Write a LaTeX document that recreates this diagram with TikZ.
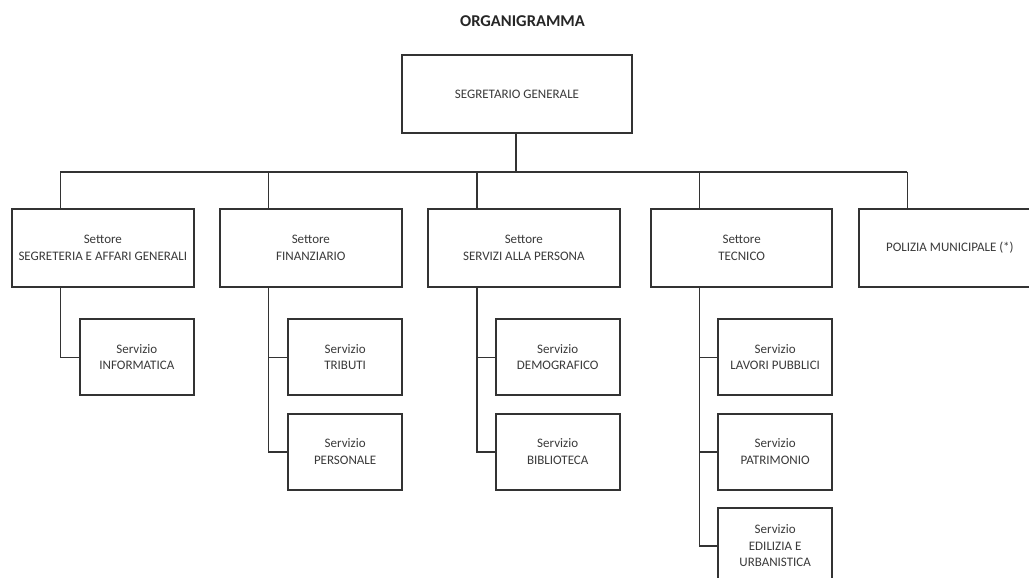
\documentclass[tikz,border=0pt]{standalone}
\usepackage{fontspec}
\setmainfont{Carlito}
\definecolor{linec}{HTML}{333333}
\definecolor{textc}{HTML}{3A3A3A}
\begin{document}
\begin{tikzpicture}[x=1pt,y=-1pt,
  box/.style={draw=linec, line width=1.9pt, rectangle, align=center, inner sep=0pt,
    text=textc, font=\fontsize{13}{16.5}\selectfont},
  sector/.style={box, minimum height=78pt},
  serv/.style={box, minimum height=76pt, minimum width=114.3pt},
  conn/.style={draw=linec, line width=1.6pt}]
\useasboundingbox (0,0) rectangle (1029,578);
\clip (0,0) rectangle (1029,578);
\fill[white] (0,0) rectangle (1029,578);

\node[font=\bfseries\fontsize{16.5}{18}\selectfont, text=black!85] (title) at (522.5,21) {ORGANIGRAMMA};

\node[box, minimum width=230pt, minimum height=78pt] (sg) at (517,94) {SEGRETARIO GENERALE};

\node[sector, minimum width=182.3pt] (s1) at (102.85,248) {Settore\\SEGRETERIA E AFFARI GENERALI};
\node[sector, minimum width=182.3pt] (s2) at (310.85,248) {Settore\\FINANZIARIO};
\node[sector, minimum width=191.7pt] (s3) at (523.85,248) {Settore\\SERVIZI ALLA PERSONA};
\node[sector, minimum width=181.3pt] (s4) at (741.65,248) {Settore\\TECNICO};
\node[sector, minimum width=182.3pt] (s5) at (949.85,248) {POLIZIA MUNICIPALE (*)};

\node[serv] (inf) at (136.85,357.3) {Servizio\\INFORMATICA};
\node[serv] (tri) at (345.15,357.3) {Servizio\\TRIBUTI};
\node[serv] (per) at (345.15,451.7) {Servizio\\PERSONALE};
\node[serv, minimum width=124pt] (dem) at (557.7,357.3) {Servizio\\DEMOGRAFICO};
\node[serv, minimum width=124pt] (bib) at (557.7,451.7) {Servizio\\BIBLIOTECA};
\node[serv] (lav) at (775.15,357.3) {Servizio\\LAVORI PUBBLICI};
\node[serv] (pat) at (775.15,451.7) {Servizio\\PATRIMONIO};
\node[serv] (edi) at (775.15,546) {Servizio\\EDILIZIA E\\URBANISTICA};

\coordinate (bus) at (516,171.7);
\coordinate (d1) at (60.3,171.7);
\coordinate (d2) at (268.3,171.7);
\coordinate (d3) at (476.7,171.7);
\coordinate (d4) at (699.3,171.7);
\coordinate (d5) at (907.3,171.7);

\draw[conn] (sg.south -| bus) -- (bus);
\draw[conn] (d1) -- (d5);
\draw[conn] (d1) -- (d1 |- s1.north);
\draw[conn] (d2) -- (d2 |- s2.north);
\draw[conn] (d3) -- (d3 |- s3.north);
\draw[conn] (d4) -- (d4 |- s4.north);
\draw[conn] (d5) -- (d5 |- s5.north);

\draw[conn] (d1 |- s1.south) |- (inf.west);
\draw[conn] (d2 |- s2.south) |- (per.west);
\draw[conn] (d2 |- tri.west) -- (tri.west);
\draw[conn] (d3 |- s3.south) |- (bib.west);
\draw[conn] (d3 |- dem.west) -- (dem.west);
\draw[conn] (d4 |- s4.south) |- (edi.west);
\draw[conn] (d4 |- lav.west) -- (lav.west);
\draw[conn] (d4 |- pat.west) -- (pat.west);
\end{tikzpicture}
\end{document}
